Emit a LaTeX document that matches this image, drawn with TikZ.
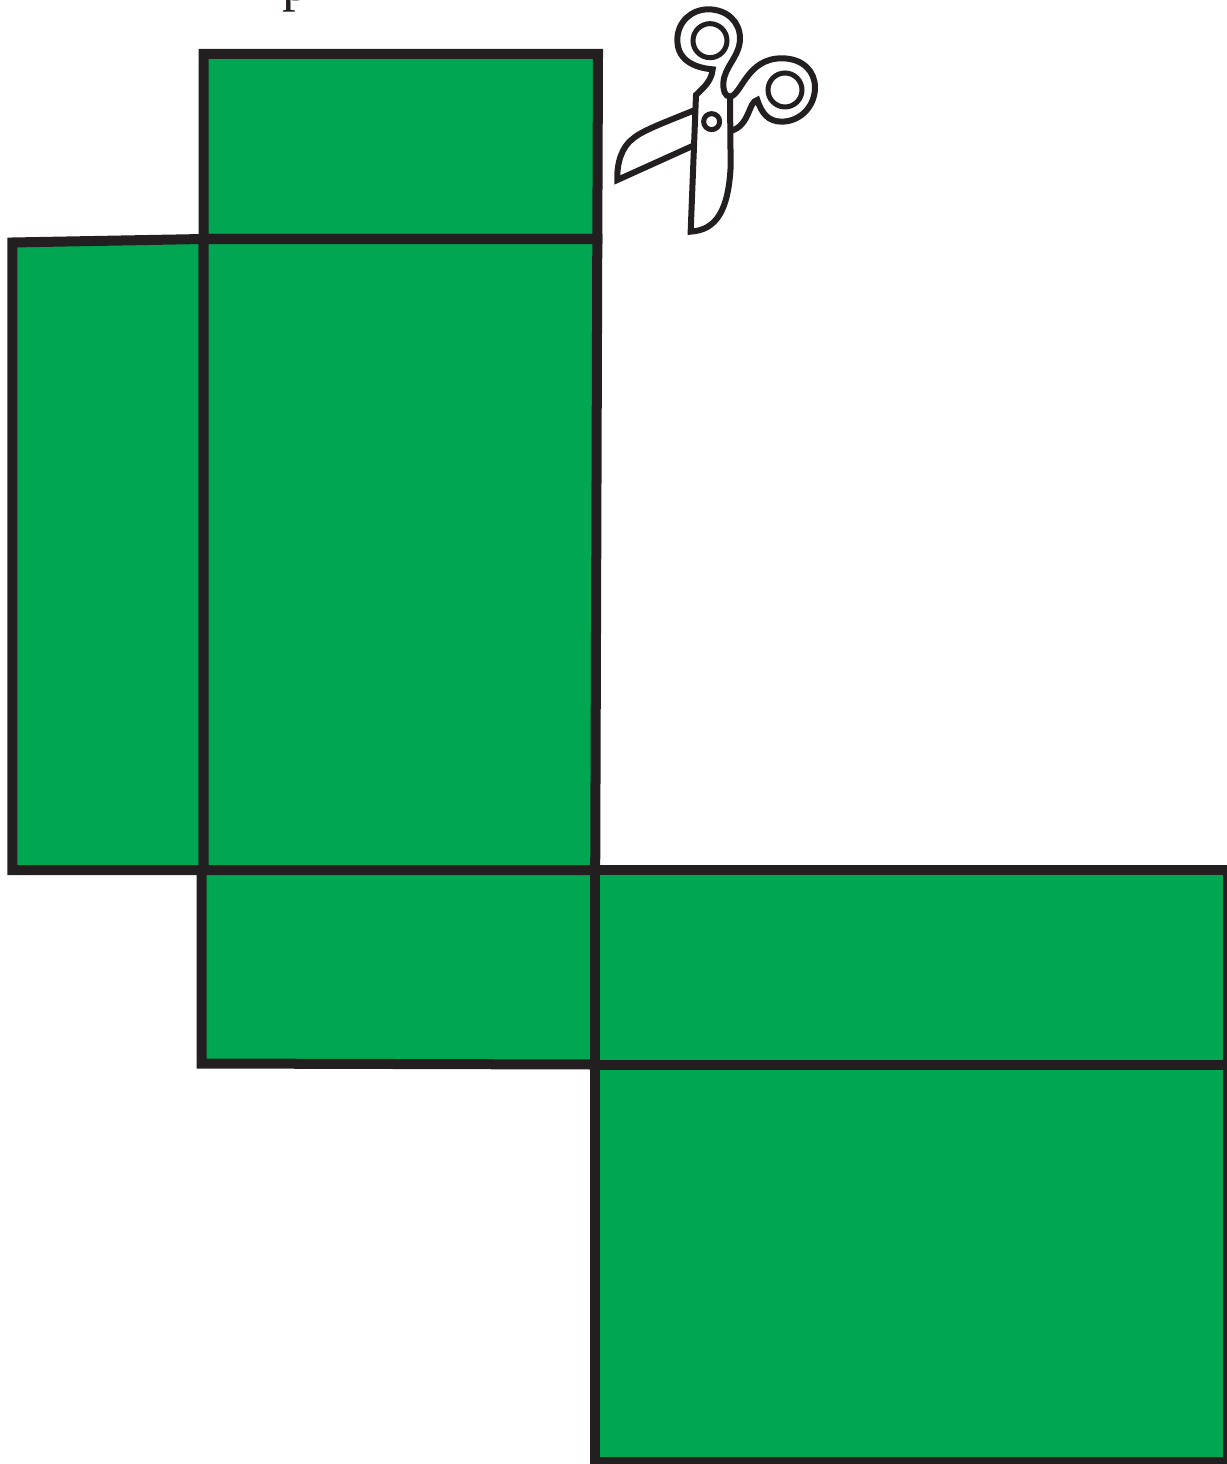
\documentclass[tikz,border=0pt]{standalone}
\usepackage{fontspec}
\setmainfont{Liberation Serif}
\usepackage{xcolor}
\definecolor{netgreen}{HTML}{00A651}
\definecolor{netink}{HTML}{231F20}
\begin{document}
\begin{tikzpicture}[
  x=0.01cm, y=-0.01cm,
  panel/.style={fill=netgreen, draw=netink, line width=0.1cm, miter limit=10},
  cutter/.style={draw=netink, line width=0.06cm, line join=miter},
]
  \useasboundingbox (0,0) rectangle (1226,1464);
  % label cut off by the top edge
  \node[anchor=base, inner sep=0pt, font=\fontsize{15.6pt}{18pt}\selectfont, text=netink] (cutlabel) at (296,1) {p};
  % TOP FLAP
  \draw[panel] (203.5,54) -- (598,54) -- (597.3,239) -- (203.5,239) -- cycle;
  % LEFT FLAP
  \draw[panel] (12.3,242.5) -- (203.5,239) -- (203.5,870) -- (12.3,870) -- cycle;
  % MAIN FACE
  \draw[panel] (203.5,239) -- (597.3,239) -- (595.2,870) -- (203.5,870) -- cycle;
  % BOTTOM FLAP
  \draw[panel] (201.7,870) -- (595.2,870) -- (595.2,1064.5) -- (201.7,1063.5) -- cycle;
  % RIGHT FACE
  \draw[panel] (595.2,870) -- (1227.7,870) -- (1227.7,1064.5) -- (595.2,1064.5) -- cycle;
  % LOWER FACE
  \draw[panel] (595.2,1064.5) -- (1227.7,1064.5) -- (1227.7,1461.7) -- (595.2,1461.7) -- cycle;
  % scissors
  \begin{scope}[shift={(600,0)}, scale=0.3333]
    % lower blade
    \draw[cutter] (285,330) .. controls (200,365) and (130,390) .. (100,415)
      .. controls (65,440) and (50,490) .. (52,540) -- (280,437);
    % upper blade and first handle
    \draw[cutter] (272,695) -- (288,285) .. controls (315,260) and (335,240) .. (338,208)
      .. controls (300,205) and (232,190) .. (232,120)
      .. controls (232,65) and (275,28) .. (325,28)
      .. controls (380,28) and (420,65) .. (420,115)
      .. controls (420,170) and (372,200) .. (370,250)
      .. controls (369,270) and (375,290) .. (390,290)
      -- (392,500) .. controls (385,630) and (350,690) .. (272,695) -- cycle;
    % second handle
    \draw[cutter] (390,290) .. controls (425,285) and (440,175) .. (545,175)
      .. controls (610,175) and (645,215) .. (645,262)
      .. controls (645,320) and (600,365) .. (545,365)
      .. controls (505,365) and (485,340) .. (472,300)
      .. controls (445,305) and (450,375) .. (395,392);
    % rings and pivot
    \draw[cutter, line width=0.05cm] (330,122) circle[radius=51];
    \draw[cutter, line width=0.05cm] (555,270) circle[radius=51];
    \draw[cutter, line width=0.05cm] (335,365) circle[radius=24];
  \end{scope}
\end{tikzpicture}
\end{document}
